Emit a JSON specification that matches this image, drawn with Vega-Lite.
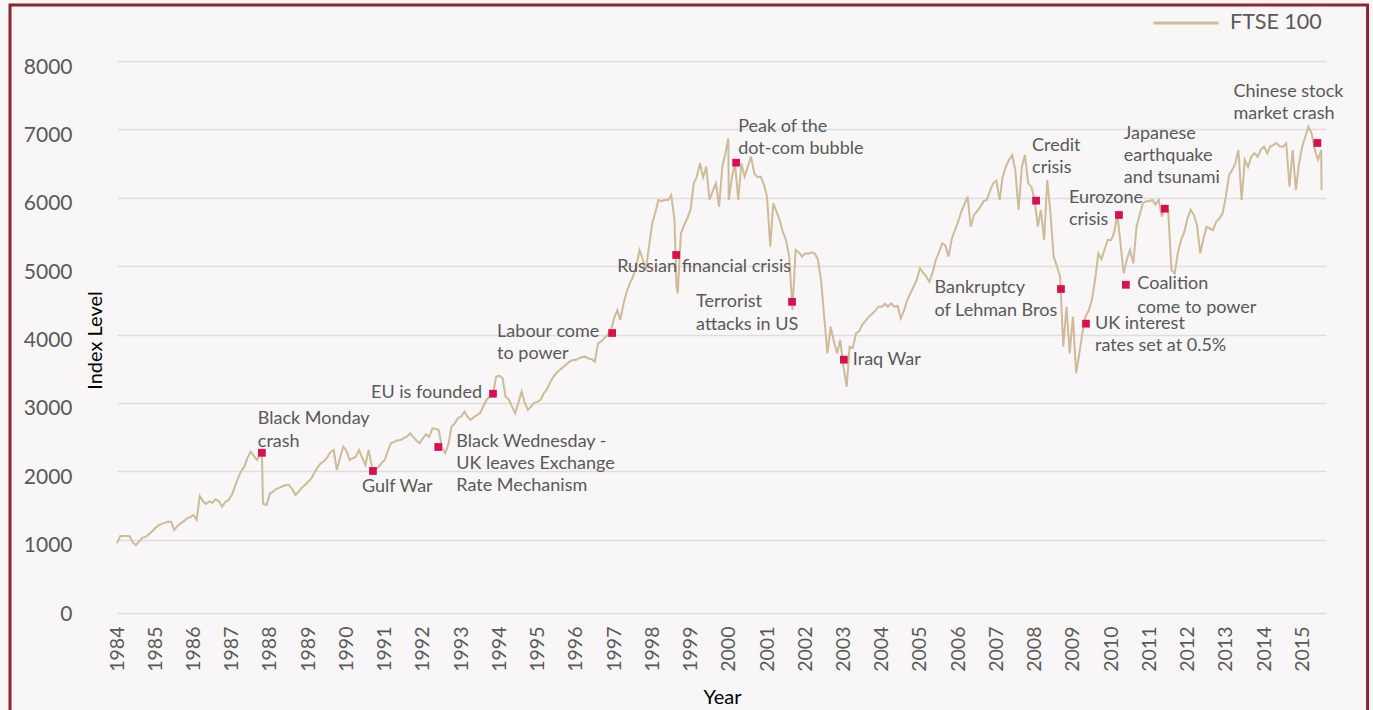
{
  "$schema": "https://vega.github.io/schema/vega-lite/v6.json",
  "width": 1209,
  "height": 547,
  "autosize": {"type": "none"},
  "padding": {"left": 117, "top": 61, "right": 47, "bottom": 102},
  "background": "#f8f6f7",
  "config": {
    "view": {"stroke": null},
    "font": "Lato",
    "text": {"font": "Lato", "fontSize": 18, "fill": "#595959", "lineBreak": "\n", "lineHeight": 22.5, "baseline": "alphabetic", "align": "left"}
  },
  "datasets": {
    "ftse": [
      {"d":"1984-01-01","v":946},{"d":"1984-02-01","v":1053},{"d":"1984-03-01","v":1053},{"d":"1984-04-01","v":1053},{"d":"1984-05-01","v":1050},{"d":"1984-06-01","v":955},{"d":"1984-07-01","v":921},{"d":"1984-08-01","v":980},{"d":"1984-09-01","v":1030},{"d":"1984-10-01","v":1040},{"d":"1984-11-01","v":1080},{"d":"1984-12-01","v":1120},
      {"d":"1985-01-01","v":1170},{"d":"1985-02-01","v":1210},{"d":"1985-03-01","v":1230},{"d":"1985-04-01","v":1245},{"d":"1985-05-01","v":1262},{"d":"1985-06-01","v":1262},{"d":"1985-07-01","v":1140},{"d":"1985-08-01","v":1200},{"d":"1985-09-01","v":1239},{"d":"1985-10-01","v":1270},{"d":"1985-11-01","v":1310},{"d":"1985-12-01","v":1330},
      {"d":"1986-01-01","v":1360},{"d":"1986-02-01","v":1287},{"d":"1986-03-01","v":1638},{"d":"1986-04-01","v":1560},{"d":"1986-05-01","v":1521},{"d":"1986-06-01","v":1560},{"d":"1986-07-01","v":1540},{"d":"1986-08-01","v":1590},{"d":"1986-09-01","v":1560},{"d":"1986-10-01","v":1482},{"d":"1986-11-01","v":1550},{"d":"1986-12-01","v":1580},
      {"d":"1987-01-01","v":1650},{"d":"1987-02-01","v":1780},{"d":"1987-03-01","v":1897},{"d":"1987-04-01","v":2000},{"d":"1987-05-01","v":2067},{"d":"1987-06-01","v":2200},{"d":"1987-07-01","v":2286},{"d":"1987-08-01","v":2220},{"d":"1987-09-01","v":2165},{"d":"1987-10-01","v":2250},{"d":"1987-10-16","v":2311},{"d":"1987-10-26","v":1560},{"d":"1987-11-01","v":1520},{"d":"1987-12-01","v":1506},
      {"d":"1988-01-01","v":1678},{"d":"1988-02-01","v":1700},{"d":"1988-03-01","v":1740},{"d":"1988-04-01","v":1760},{"d":"1988-05-01","v":1780},{"d":"1988-06-01","v":1799},{"d":"1988-07-01","v":1799},{"d":"1988-08-01","v":1740},{"d":"1988-09-01","v":1653},{"d":"1988-10-01","v":1700},{"d":"1988-11-01","v":1760},{"d":"1988-12-01","v":1800},
      {"d":"1989-01-01","v":1847},{"d":"1989-02-01","v":1900},{"d":"1989-03-01","v":1980},{"d":"1989-04-01","v":2060},{"d":"1989-05-01","v":2116},{"d":"1989-06-01","v":2150},{"d":"1989-07-01","v":2200},{"d":"1989-08-01","v":2280},{"d":"1989-09-01","v":2311},{"d":"1989-10-01","v":2018},{"d":"1989-11-01","v":2200},{"d":"1989-12-01","v":2359},
      {"d":"1990-01-01","v":2300},{"d":"1990-02-01","v":2165},{"d":"1990-03-01","v":2190},{"d":"1990-04-01","v":2213},{"d":"1990-05-01","v":2311},{"d":"1990-06-01","v":2200},{"d":"1990-07-01","v":2091},{"d":"1990-08-01","v":2311},{"d":"1990-09-01","v":2067},{"d":"1990-10-01","v":2030},{"d":"1990-11-01","v":2057},{"d":"1990-12-01","v":2120},
      {"d":"1991-01-01","v":2165},{"d":"1991-02-01","v":2300},{"d":"1991-03-01","v":2409},{"d":"1991-04-01","v":2430},{"d":"1991-05-01","v":2450},{"d":"1991-06-01","v":2457},{"d":"1991-07-01","v":2480},{"d":"1991-08-01","v":2506},{"d":"1991-09-01","v":2555},{"d":"1991-10-01","v":2500},{"d":"1991-11-01","v":2450},{"d":"1991-12-01","v":2409},
      {"d":"1992-01-01","v":2480},{"d":"1992-02-01","v":2540},{"d":"1992-03-01","v":2500},{"d":"1992-04-01","v":2628},{"d":"1992-05-01","v":2620},{"d":"1992-06-01","v":2603},{"d":"1992-07-01","v":2350},{"d":"1992-08-01","v":2262},{"d":"1992-09-01","v":2400},{"d":"1992-10-01","v":2652},{"d":"1992-11-01","v":2700},{"d":"1992-12-01","v":2780},
      {"d":"1993-01-01","v":2800},{"d":"1993-02-01","v":2871},{"d":"1993-03-01","v":2800},{"d":"1993-04-01","v":2750},{"d":"1993-05-01","v":2790},{"d":"1993-06-01","v":2823},{"d":"1993-07-01","v":2850},{"d":"1993-08-01","v":2950},{"d":"1993-09-01","v":3050},{"d":"1993-10-01","v":3090},{"d":"1993-11-01","v":3130},{"d":"1993-12-01","v":3383},
      {"d":"1994-01-01","v":3400},{"d":"1994-02-01","v":3359},{"d":"1994-03-01","v":3090},{"d":"1994-04-01","v":3050},{"d":"1994-05-01","v":2950},{"d":"1994-06-01","v":2848},{"d":"1994-07-01","v":3000},{"d":"1994-08-01","v":3164},{"d":"1994-09-01","v":3000},{"d":"1994-10-01","v":2896},{"d":"1994-11-01","v":2950},{"d":"1994-12-01","v":3000},
      {"d":"1995-01-01","v":3017},{"d":"1995-02-01","v":3050},{"d":"1995-03-01","v":3140},{"d":"1995-04-01","v":3200},{"d":"1995-05-01","v":3300},{"d":"1995-06-01","v":3380},{"d":"1995-07-01","v":3440},{"d":"1995-08-01","v":3481},{"d":"1995-09-01","v":3520},{"d":"1995-10-01","v":3560},{"d":"1995-11-01","v":3600},{"d":"1995-12-01","v":3627},
      {"d":"1996-01-01","v":3627},{"d":"1996-02-01","v":3650},{"d":"1996-03-01","v":3670},{"d":"1996-04-01","v":3676},{"d":"1996-05-01","v":3650},{"d":"1996-06-01","v":3640},{"d":"1996-07-01","v":3602},{"d":"1996-08-01","v":3871},{"d":"1996-09-01","v":3900},{"d":"1996-10-01","v":3950},{"d":"1996-11-01","v":3993},{"d":"1996-12-01","v":4058},
      {"d":"1997-01-01","v":4237},{"d":"1997-02-01","v":4358},{"d":"1997-03-01","v":4212},{"d":"1997-04-01","v":4450},{"d":"1997-05-01","v":4626},{"d":"1997-06-01","v":4750},{"d":"1997-07-01","v":4845},{"d":"1997-08-01","v":5000},{"d":"1997-09-01","v":5236},{"d":"1997-10-01","v":5100},{"d":"1997-11-01","v":4943},{"d":"1997-12-01","v":5300},
      {"d":"1998-01-01","v":5626},{"d":"1998-02-01","v":5800},{"d":"1998-03-01","v":5967},{"d":"1998-04-01","v":5950},{"d":"1998-05-01","v":5967},{"d":"1998-06-01","v":5967},{"d":"1998-07-01","v":6040},{"d":"1998-08-01","v":5675},{"d":"1998-08-20","v":4700},{"d":"1998-09-01","v":4602},{"d":"1998-10-01","v":5480},{"d":"1998-11-01","v":5600},{"d":"1998-12-01","v":5700},
      {"d":"1999-01-01","v":5821},{"d":"1999-02-01","v":6211},{"d":"1999-03-01","v":6300},{"d":"1999-04-01","v":6504},{"d":"1999-05-01","v":6300},{"d":"1999-06-01","v":6455},{"d":"1999-07-01","v":5967},{"d":"1999-08-01","v":6100},{"d":"1999-09-01","v":6211},{"d":"1999-10-01","v":5869},{"d":"1999-11-01","v":6455},{"d":"1999-12-01","v":6650},{"d":"1999-12-28","v":6870},
      {"d":"2000-01-01","v":5967},{"d":"2000-02-01","v":6300},{"d":"2000-03-01","v":6504},{"d":"2000-04-01","v":5967},{"d":"2000-05-01","v":6504},{"d":"2000-06-01","v":6308},{"d":"2000-07-01","v":6450},{"d":"2000-08-01","v":6601},{"d":"2000-09-01","v":6357},{"d":"2000-10-01","v":6300},{"d":"2000-11-01","v":6308},{"d":"2000-12-01","v":6200},
      {"d":"2001-01-01","v":6016},{"d":"2001-02-01","v":5284},{"d":"2001-03-01","v":5919},{"d":"2001-04-01","v":5800},{"d":"2001-05-01","v":5675},{"d":"2001-06-01","v":5500},{"d":"2001-07-01","v":5382},{"d":"2001-08-01","v":5138},{"d":"2001-09-01","v":4358},{"d":"2001-10-01","v":5236},{"d":"2001-11-01","v":5200},{"d":"2001-12-01","v":5138},
      {"d":"2002-01-01","v":5187},{"d":"2002-02-01","v":5180},{"d":"2002-03-01","v":5200},{"d":"2002-04-01","v":5187},{"d":"2002-05-01","v":5100},{"d":"2002-06-01","v":4797},{"d":"2002-07-01","v":4260},{"d":"2002-08-01","v":3725},{"d":"2002-09-01","v":4114},{"d":"2002-10-01","v":3900},{"d":"2002-11-01","v":3725},{"d":"2002-12-01","v":3920},
      {"d":"2003-01-01","v":3529},{"d":"2003-02-01","v":3236},{"d":"2003-03-01","v":3821},{"d":"2003-04-01","v":3800},{"d":"2003-05-01","v":4017},{"d":"2003-06-01","v":4050},{"d":"2003-07-01","v":4150},{"d":"2003-08-01","v":4200},{"d":"2003-09-01","v":4260},{"d":"2003-10-01","v":4300},{"d":"2003-11-01","v":4350},{"d":"2003-12-01","v":4406},
      {"d":"2004-01-01","v":4406},{"d":"2004-02-01","v":4450},{"d":"2004-03-01","v":4406},{"d":"2004-04-01","v":4456},{"d":"2004-05-01","v":4406},{"d":"2004-06-01","v":4420},{"d":"2004-07-01","v":4237},{"d":"2004-08-01","v":4350},{"d":"2004-09-01","v":4504},{"d":"2004-10-01","v":4600},{"d":"2004-11-01","v":4699},{"d":"2004-12-01","v":4800},
      {"d":"2005-01-01","v":4968},{"d":"2005-02-01","v":4900},{"d":"2005-03-01","v":4850},{"d":"2005-04-01","v":4772},{"d":"2005-05-01","v":4900},{"d":"2005-06-01","v":5090},{"d":"2005-07-01","v":5200},{"d":"2005-08-01","v":5334},{"d":"2005-09-01","v":5300},{"d":"2005-10-01","v":5138},{"d":"2005-11-01","v":5400},{"d":"2005-12-01","v":5528},
      {"d":"2006-01-01","v":5650},{"d":"2006-02-01","v":5800},{"d":"2006-03-01","v":5900},{"d":"2006-04-01","v":6016},{"d":"2006-05-01","v":5577},{"d":"2006-06-01","v":5750},{"d":"2006-07-01","v":5800},{"d":"2006-08-01","v":5869},{"d":"2006-09-01","v":5950},{"d":"2006-10-01","v":5967},{"d":"2006-11-01","v":6100},{"d":"2006-12-01","v":6211},
      {"d":"2007-01-01","v":6250},{"d":"2007-02-01","v":5967},{"d":"2007-03-01","v":6300},{"d":"2007-04-01","v":6450},{"d":"2007-05-01","v":6552},{"d":"2007-06-01","v":6625},{"d":"2007-07-01","v":6400},{"d":"2007-08-01","v":5821},{"d":"2007-09-01","v":6450},{"d":"2007-10-01","v":6625},{"d":"2007-11-01","v":6211},{"d":"2007-12-01","v":6162},
      {"d":"2008-01-01","v":5967},{"d":"2008-02-01","v":5577},{"d":"2008-03-01","v":5821},{"d":"2008-04-01","v":5382},{"d":"2008-05-01","v":6260},{"d":"2008-06-01","v":5772},{"d":"2008-07-01","v":5138},{"d":"2008-08-01","v":5000},{"d":"2008-09-01","v":4845},{"d":"2008-10-01","v":3821},{"d":"2008-11-01","v":4406},{"d":"2008-12-01","v":3725},
      {"d":"2009-01-01","v":4260},{"d":"2009-02-01","v":3433},{"d":"2009-03-01","v":3700},{"d":"2009-04-01","v":4017},{"d":"2009-05-01","v":4260},{"d":"2009-06-01","v":4350},{"d":"2009-07-01","v":4504},{"d":"2009-08-01","v":4797},{"d":"2009-09-01","v":5187},{"d":"2009-10-01","v":5100},{"d":"2009-11-01","v":5250},{"d":"2009-12-01","v":5382},
      {"d":"2010-01-01","v":5382},{"d":"2010-02-01","v":5500},{"d":"2010-03-01","v":5772},{"d":"2010-04-01","v":5334},{"d":"2010-05-01","v":4895},{"d":"2010-06-01","v":5100},{"d":"2010-07-01","v":5236},{"d":"2010-08-01","v":5041},{"d":"2010-09-01","v":5577},{"d":"2010-10-01","v":5750},{"d":"2010-11-01","v":5919},{"d":"2010-12-01","v":5950},
      {"d":"2011-01-01","v":5950},{"d":"2011-02-01","v":5967},{"d":"2011-03-01","v":5900},{"d":"2011-04-01","v":5967},{"d":"2011-05-01","v":5723},{"d":"2011-06-01","v":5869},{"d":"2011-07-01","v":5800},{"d":"2011-08-01","v":4943},{"d":"2011-09-01","v":4895},{"d":"2011-10-01","v":5200},{"d":"2011-11-01","v":5382},{"d":"2011-12-01","v":5500},
      {"d":"2012-01-01","v":5700},{"d":"2012-02-01","v":5821},{"d":"2012-03-01","v":5750},{"d":"2012-04-01","v":5600},{"d":"2012-05-01","v":5187},{"d":"2012-06-01","v":5400},{"d":"2012-07-01","v":5577},{"d":"2012-08-01","v":5550},{"d":"2012-09-01","v":5528},{"d":"2012-10-01","v":5650},{"d":"2012-11-01","v":5700},{"d":"2012-12-01","v":5772},
      {"d":"2013-01-01","v":6016},{"d":"2013-02-01","v":6333},{"d":"2013-03-01","v":6400},{"d":"2013-04-01","v":6500},{"d":"2013-05-01","v":6698},{"d":"2013-06-01","v":5967},{"d":"2013-07-01","v":6552},{"d":"2013-08-01","v":6450},{"d":"2013-09-01","v":6600},{"d":"2013-10-01","v":6650},{"d":"2013-11-01","v":6600},{"d":"2013-12-01","v":6700},
      {"d":"2014-01-01","v":6747},{"d":"2014-02-01","v":6650},{"d":"2014-03-01","v":6750},{"d":"2014-04-01","v":6772},{"d":"2014-05-01","v":6800},{"d":"2014-06-01","v":6750},{"d":"2014-07-01","v":6747},{"d":"2014-08-01","v":6800},{"d":"2014-09-01","v":6162},{"d":"2014-10-01","v":6698},{"d":"2014-11-01","v":6113},{"d":"2014-12-01","v":6500},
      {"d":"2015-01-01","v":6747},{"d":"2015-02-01","v":6900},{"d":"2015-03-01","v":7039},{"d":"2015-04-01","v":6942},{"d":"2015-05-01","v":6700},{"d":"2015-06-01","v":6552},{"d":"2015-07-01","v":6698},{"d":"2015-07-05","v":6113}
    ],
    "events": [
      {"id":1,"d":"1987-10-16","v":2270,"label":"Black Monday\ncrash"},
      {"id":2,"d":"1990-09-11","v":2004,"label":"Gulf War"},
      {"id":3,"d":"1992-05-27","v":2355,"label":"Black Wednesday -\nUK leaves Exchange\nRate Mechanism"},
      {"id":4,"d":"1993-11-01","v":3134,"label":"EU is founded"},
      {"id":5,"d":"1996-12-13","v":4022,"label":"Labour come\nto power"},
      {"id":6,"d":"1998-08-17","v":5163,"label":"Russian financial crisis"},
      {"id":7,"d":"2000-03-12","v":6513,"label":"Peak of the\ndot-com bubble"},
      {"id":8,"d":"2001-08-28","v":4478,"label":"Terrorist\nattacks in US"},
      {"id":9,"d":"2003-01-05","v":3632,"label":"Iraq War"},
      {"id":10,"d":"2008-01-15","v":5957,"label":"Credit\ncrisis"},
      {"id":11,"d":"2008-09-09","v":4665,"label":"Bankruptcy\nof Lehman Bros"},
      {"id":12,"d":"2009-05-06","v":4158,"label":"UK interest\nrates set at 0.5%"},
      {"id":13,"d":"2010-03-17","v":5748,"label":"Eurozone\ncrisis"},
      {"id":14,"d":"2010-05-22","v":4727,"label":"Coalition\ncome to power"},
      {"id":15,"d":"2011-05-29","v":5840,"label":"Japanese\nearthquake\nand tsunami"},
      {"id":16,"d":"2015-05-26","v":6801,"label":"Chinese stock\nmarket crash"}
    ]
  },
  "layer": [
    {
      "encoding": {
        "x": {
          "field": "d", "type": "temporal",
          "scale": {"domain": [{"year": 1984, "month": 1, "date": 1}, {"year": 2015, "month": 8, "date": 16}]},
          "axis": {
            "title": "Year", "titleColor": "#000000", "titleFontSize": 20, "titleFontWeight": "normal", "titleFont": "Lato",
            "titleX": 605, "titleY": 90, "titleBaseline": "alphabetic", "titleAlign": "center",
            "format": "%Y", "tickCount": {"interval": "year", "step": 1},
            "labelAngle": -90, "labelAlign": "right", "labelBaseline": "middle", "labelFontSize": 19.5, "labelColor": "#595959", "labelFont": "Lato",
            "labelPadding": 13, "labelFlush": false, "labelOverlap": false,
            "ticks": false, "grid": false, "domainColor": "#dcdadb", "domainWidth": 1.5, "offset": 5
          }
        },
        "y": {
          "field": "v", "type": "quantitative",
          "scale": {"domain": [0, 8000]},
          "axis": {
            "title": "Index Level", "titleColor": "#000000", "titleFontSize": 20, "titleFontWeight": "normal", "titleFont": "Lato",
            "titleX": -22, "titleY": 279, "titleAngle": -90, "titleAlign": "center", "titleBaseline": "middle",
            "values": [0, 1000, 2000, 3000, 4000, 5000, 6000, 7000, 8000], "format": "d",
            "labelFontSize": 21, "labelColor": "#595959", "labelFont": "Lato", "labelPadding": 45, "labelOffset": 6,
            "ticks": false, "domain": false, "grid": true, "gridColor": "#dfdddd", "gridWidth": 1.5,
            "gridOpacity": {"condition": {"test": "datum.value === 0", "value": 0}, "value": 1}
          }
        }
      },
      "layer": [
        {
          "data": {"name": "ftse"},
          "mark": {"type": "line", "strokeWidth": 2},
          "encoding": {
            "color": {
              "datum": "FTSE 100", "type": "nominal",
              "scale": {"range": ["#cdbb9b"]},
              "legend": {
                "orient": "none", "legendX": 1035, "legendY": -72, "title": null, "padding": 0,
                "symbolType": "stroke", "symbolStrokeWidth": 3, "symbolSize": 4225,
                "labelFontSize": 21.5, "labelColor": "#595959", "labelFont": "Lato", "labelOffset": 10
              }
            }
          }
        },
        {
          "data": {"name": "events"},
          "layer": [
            {"mark": {"type": "point", "shape": "square", "filled": true, "size": 60, "color": "#d80f50", "opacity": 1}},
            {
              "encoding": {"text": {"field": "label", "type": "nominal"}},
              "layer": [
                {"transform": [{"filter": "datum.id == 1"}], "mark": {"type": "text", "dx": -4, "dy": -28.5}},
                {"transform": [{"filter": "datum.id == 2"}], "mark": {"type": "text", "dx": -11, "dy": 21}},
                {"transform": [{"filter": "datum.id == 3"}], "mark": {"type": "text", "dx": 18, "dy": 0, "lineHeight": 22.2}},
                {"transform": [{"filter": "datum.id == 4"}], "mark": {"type": "text", "align": "right", "dx": -11, "dy": 4}},
                {"transform": [{"filter": "datum.id == 5"}], "mark": {"type": "text", "dx": -115, "dy": 4}},
                {"transform": [{"filter": "datum.id == 6"}], "mark": {"type": "text", "dx": -59, "dy": 17}},
                {"transform": [{"filter": "datum.id == 7"}], "mark": {"type": "text", "dx": 2, "dy": -31}},
                {"transform": [{"filter": "datum.id == 8"}], "mark": {"type": "text", "dx": -96, "dy": 5.5}},
                {"transform": [{"filter": "datum.id == 9"}], "mark": {"type": "text", "dx": 9, "dy": 5}},
                {"transform": [{"filter": "datum.id == 10"}], "mark": {"type": "text", "dx": -4, "dy": -50}},
                {"transform": [{"filter": "datum.id == 11"}], "mark": {"type": "text", "dx": -126.5, "dy": 4}},
                {"transform": [{"filter": "datum.id == 12"}], "mark": {"type": "text", "dx": 9, "dy": 5}},
                {"transform": [{"filter": "datum.id == 13"}], "mark": {"type": "text", "dx": -50, "dy": -12}},
                {"transform": [{"filter": "datum.id == 14"}], "mark": {"type": "text", "dx": 11.5, "dy": 4.5, "lineHeight": 23.4}},
                {"transform": [{"filter": "datum.id == 15"}], "mark": {"type": "text", "dx": -41, "dy": -69.5, "lineHeight": 22}},
                {"transform": [{"filter": "datum.id == 16"}], "mark": {"type": "text", "dx": -84, "dy": -46}}
              ]
            }
          ]
        }
      ]
    },
    {
      "data": {"values": [{"frame": "border"}]},
      "mark": {"type": "rect", "fill": null, "stroke": "#8c2435", "strokeWidth": 3},
      "encoding": {
        "x": {"datum": {"year": 1981, "month": 3, "date": 15}, "type": "temporal"},
        "x2": {"datum": {"year": 2016, "month": 9, "date": 16}},
        "y": {"datum": 8819, "type": "quantitative"},
        "y2": {"datum": -2000}
      }
    }
  ]
}
